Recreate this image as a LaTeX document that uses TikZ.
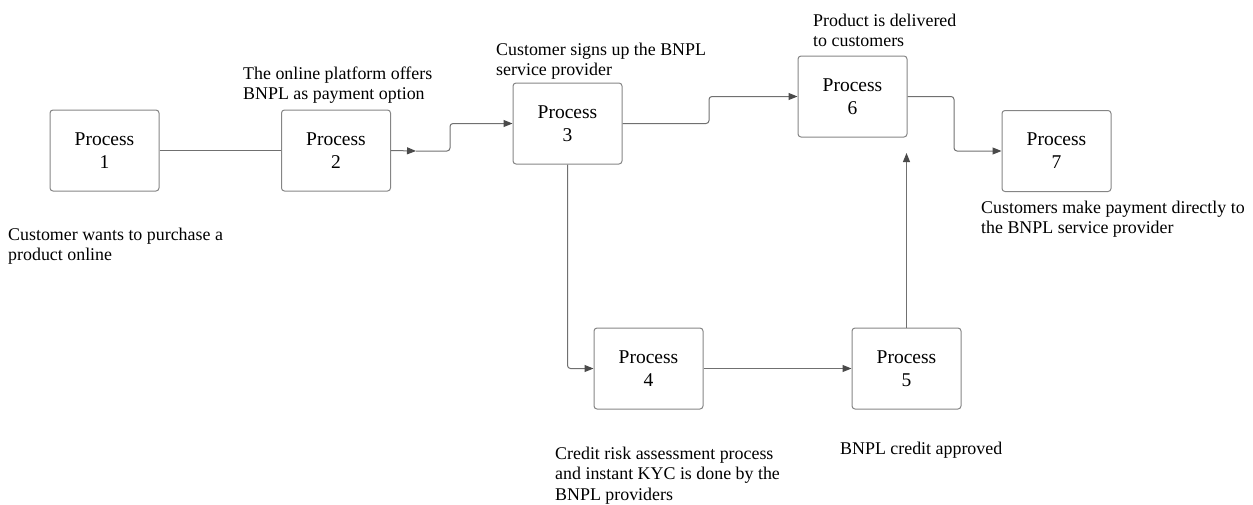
\documentclass[tikz,border=0pt]{standalone}
\usepackage{fontspec}
\setmainfont{Liberation Serif}
\usetikzlibrary{arrows.meta,calc}
\definecolor{boxline}{HTML}{858585}
\definecolor{conline}{HTML}{707070}
\definecolor{tipcol}{HTML}{4A4A4A}
\tikzset{
  procbox/.style={draw=boxline, line width=1pt, rounded corners=3pt, minimum width=109pt, minimum height=81pt, inner sep=0pt, align=center, font=\fontsize{19.5}{23}\selectfont, text=black},
  note/.style={anchor=north west, inner sep=0pt, align=left, font=\fontsize{17.9}{20.5}\selectfont, text=black},
  conn/.style={draw=conline, line width=1pt, rounded corners=3pt},
  arr/.style={conn, -{Triangle[length=9pt,width=7pt,color=tipcol,fill=tipcol]}}
}
\begin{document}
\begin{tikzpicture}[x=1pt,y=-1pt]
\useasboundingbox (0,0) rectangle (1253,504);
% boxes
\node[procbox] (b1) at (104.5,150.5) {Process\\1};
\node[procbox] (b2) at (336,150.5) {Process\\2};
\node[procbox] (b3) at (567.5,123.5) {Process\\3};
\node[procbox] (b6) at (852.5,96.5) {Process\\6};
\node[procbox] (b7) at (1056.5,151) {Process\\7};
\node[procbox] (b4) at (648.5,368.5) {Process\\4};
\node[procbox] (b5) at (906.5,368.5) {Process\\5};
% notes
\node[note] (tA) at (8,227.5) {Customer wants to purchase a\\product online};
\node[note] (tB) at (243,66.5) {The online platform offers\\BNPL as payment option};
\node[note] (tC) at (496,42.5) {Customer signs up the BNPL\\service provider};
\node[note] (tF) at (813,13.5) {Product is delivered\\to customers};
\node[note] (tG) at (981,200.5) {Customers make payment directly to\\the BNPL service provider};
\node[note] (tD) at (555,446.5) {Credit risk assessment process\\and instant KYC is done by the\\BNPL providers};
\node[note] (tE) at (840,441.5) {BNPL credit approved};
% helper coordinates
\coordinate (m23) at (416,151);
\coordinate (t23) at (450,0);
\coordinate (t36) at (709,0);
\coordinate (t67) at (954,0);
\coordinate (e56) at (906.5,153);
% connectors
\draw[conn] (b1.east) -- (b2.west);
\draw[arr] (b2.east) -- (m23);
\draw[arr] (m23) -- (t23 |- m23) |- (b3.west);
\draw[arr] (b3.east) -- (t36 |- b3.east) |- (b6.west);
\draw[arr] (b6.east) -- (t67 |- b6.east) |- (b7.west);
\draw[arr] (b3.south) |- (b4.west);
\draw[arr] (b4.east) -- (b5.west);
\draw[arr] (b5.north) -- (e56);
\end{tikzpicture}
\end{document}
